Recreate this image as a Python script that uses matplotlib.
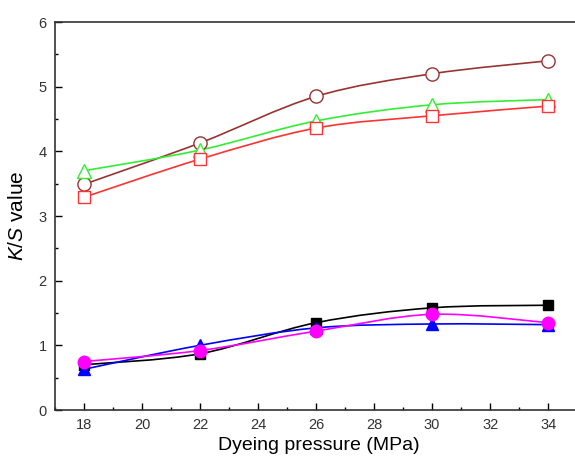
import numpy as np
import matplotlib
matplotlib.use("Agg")
import matplotlib.pyplot as plt
from matplotlib.path import Path
from matplotlib.patches import PathPatch
from matplotlib.ticker import MultipleLocator

plt.rcParams['font.family'] = ['Liberation Sans', 'DejaVu Sans']
plt.rcParams['mathtext.fontset'] = 'custom'
plt.rcParams['mathtext.rm'] = 'Liberation Sans'
plt.rcParams['mathtext.it'] = 'Liberation Sans:italic'

# Dyeing pressure (MPa)
pressure = [18, 22, 26, 30, 34]

# K/S values
open_circle = [3.49, 4.13, 4.85, 5.20, 5.40]
open_triangle = [3.70, 4.02, 4.47, 4.72, 4.80]
open_square = [3.29, 3.88, 4.36, 4.55, 4.70]
solid_square = [0.70, 0.87, 1.35, 1.58, 1.62]
solid_triangle = [0.63, 1.00, 1.27, 1.33, 1.32]
solid_circle = [0.75, 0.92, 1.22, 1.48, 1.35]

x_ticks = [18, 20, 22, 24, 26, 28, 30, 32, 34]
y_ticks = [0, 1, 2, 3, 4, 5, 6]


def smooth_path(xs, ys):
    """Catmull-Rom curve through the points, drawn as cubic Bezier segments."""
    pts = np.column_stack([xs, ys]).astype(float)
    n = len(pts)
    verts = [pts[0]]
    codes = [Path.MOVETO]
    for i in range(n - 1):
        p0 = pts[i - 1] if i > 0 else pts[i]
        p1 = pts[i]
        p2 = pts[i + 1]
        p3 = pts[i + 2] if i + 2 < n else pts[i + 1]
        c1 = p1 + (p2 - p0) / 6.0
        c2 = p2 - (p3 - p1) / 6.0
        verts += [c1, c2, p2]
        codes += [Path.CURVE4] * 3
    return Path(verts, codes)


fig = plt.figure(figsize=(5.75, 4.63), dpi=100)
ax = fig.add_axes([55 / 575, 53 / 463, 528 / 575, 388 / 463])

series = [
    (open_circle, '#993333', 'o', 'none', 9.5),
    (open_triangle, '#33ee33', '^', 'none', 9.5),
    (open_square, '#ff3333', 's', 'none', 8),
    (solid_square, 'black', 's', 'black', 7.5),
    (solid_triangle, '#0000ff', '^', '#0000ff', 9),
    (solid_circle, '#ff00ff', 'o', '#ff00ff', 9),
]

for ys, color, marker, face, ms in series:
    ax.add_patch(PathPatch(smooth_path(pressure, ys), facecolor='none',
                           edgecolor=color, lw=1.2, zorder=2))
    ax.plot(pressure, ys, linestyle='none', marker=marker, ms=ms,
            markerfacecolor=face if face != 'none' else 'white',
            markeredgecolor=color, markeredgewidth=1.0, zorder=3)

ax.set_xlim(17, 35.2)
ax.set_ylim(0, 6)
ax.set_xticks(x_ticks)
ax.set_yticks(y_ticks)
ax.xaxis.set_minor_locator(MultipleLocator(1))
ax.yaxis.set_minor_locator(MultipleLocator(0.5))
ax.tick_params(which='major', direction='in', length=5, width=1.0,
               labelsize=10.5, labelcolor='#333333', pad=6)
ax.tick_params(which='minor', direction='in', length=2.5, width=1.0)
ax.tick_params(top=False, right=False, which='both')
for s in ax.spines.values():
    s.set_linewidth(1.2)
    s.set_color('#333333')

ax.set_xlabel('Dyeing pressure (MPa)', fontsize=14, labelpad=3)
ax.set_ylabel(r'$K/S$ value', fontsize=15, labelpad=8)

fig.savefig('out.png', dpi=100)
